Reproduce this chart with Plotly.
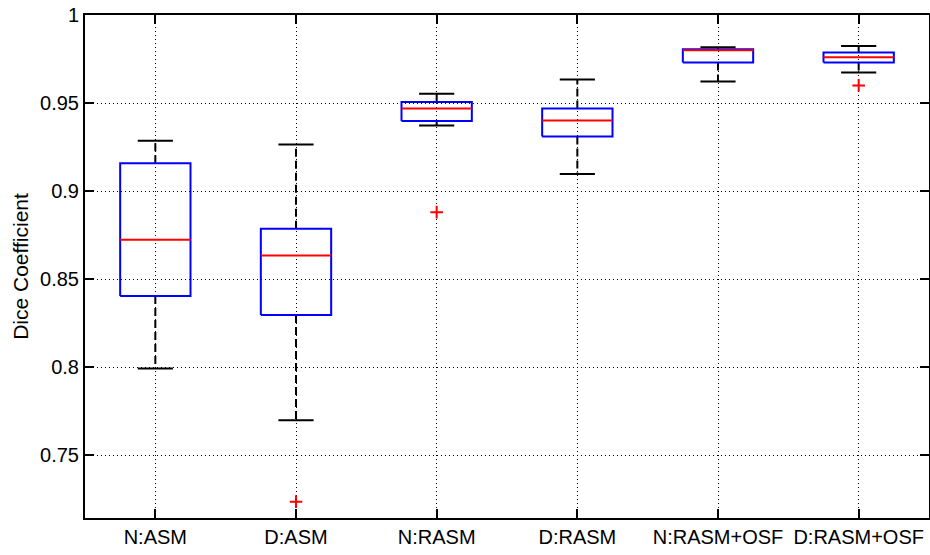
import plotly.graph_objects as go

categories = ["N:ASM", "D:ASM", "N:RASM", "D:RASM", "N:RASM+OSF", "D:RASM+OSF"]
lower_whisker = [0.7991, 0.7698, 0.9372, 0.9096, 0.9622, 0.9673]
q1 = [0.8404, 0.8296, 0.9398, 0.9310, 0.9730, 0.9730]
median = [0.8723, 0.8634, 0.9469, 0.9401, 0.9800, 0.9760]
q3 = [0.9158, 0.8786, 0.9506, 0.9469, 0.9805, 0.9787]
upper_whisker = [0.9285, 0.9264, 0.9552, 0.9633, 0.9817, 0.9824]
outlier_cat = [2, 3, 6]
outlier_val = [0.7235, 0.8880, 0.9600]
y_ticks = [0.75, 0.8, 0.85, 0.9, 0.95, 1.0]
y_tick_labels = ["0.75", "0.8", "0.85", "0.9", "0.95", "1"]

BOX_HALF = 0.25
CAP_HALF = 0.125

xpos = list(range(1, len(categories) + 1))

wx, wy = [], []
cx, cy = [], []
bx, by = [], []
mx, my = [], []
for i, x in enumerate(xpos):
    wx += [x, x, None, x, x, None]
    wy += [q3[i], upper_whisker[i], None, q1[i], lower_whisker[i], None]
    cx += [x - CAP_HALF, x + CAP_HALF, None, x - CAP_HALF, x + CAP_HALF, None]
    cy += [upper_whisker[i], upper_whisker[i], None, lower_whisker[i], lower_whisker[i], None]
    bx += [x - BOX_HALF, x + BOX_HALF, x + BOX_HALF, x - BOX_HALF, x - BOX_HALF, None]
    by += [q1[i], q1[i], q3[i], q3[i], q1[i], None]
    mx += [x - BOX_HALF, x + BOX_HALF, None]
    my += [median[i], median[i], None]

fig = go.Figure()
fig.add_trace(go.Scatter(x=wx, y=wy, mode="lines",
                         line=dict(color="black", width=2, dash="8px,4px"),
                         hoverinfo="skip", showlegend=False))
fig.add_trace(go.Scatter(x=cx, y=cy, mode="lines",
                         line=dict(color="black", width=2),
                         hoverinfo="skip", showlegend=False))
fig.add_trace(go.Scatter(x=bx, y=by, mode="lines",
                         line=dict(color="#0000ff", width=2),
                         hoverinfo="skip", showlegend=False))
fig.add_trace(go.Scatter(x=mx, y=my, mode="lines",
                         line=dict(color="#ff0000", width=2),
                         hoverinfo="skip", showlegend=False))
fig.add_trace(go.Scatter(x=outlier_cat, y=outlier_val, mode="markers",
                         marker=dict(symbol="cross-thin", size=9,
                                     line=dict(color="#ff0000", width=2)),
                         hoverinfo="skip", showlegend=False))

FONT = "Liberation Sans, Arial, sans-serif"
axis_common = dict(
    showline=True, linecolor="black", linewidth=2, mirror="ticks",
    ticks="inside", ticklen=9, tickwidth=2, tickcolor="black",
    showgrid=True, gridcolor="black", gridwidth=1, griddash="1px,3px",
    zeroline=False, ticklabeloverflow="allow", automargin=False,
    tickfont=dict(family=FONT, size=20, color="black"),
)

fig.update_xaxes(range=[0.5, 6.5], tickvals=xpos, ticktext=categories, **axis_common)
fig.update_yaxes(range=[0.7142, 1.00001], tickvals=y_ticks, ticktext=y_tick_labels,
                 title=dict(text="Dice Coefficient", standoff=6,
                            font=dict(family=FONT, size=21, color="black")),
                 **axis_common)

fig.update_layout(
    width=930, height=555,
    margin=dict(l=85, r=1, t=15, b=37),
    plot_bgcolor="white", paper_bgcolor="white",
)

# Remove the browser's default 8px body margin so the figure fills the window.
fig.write_html("out.html",
               config={"displayModeBar": False},
               post_script="document.body.style.margin='0';document.body.style.overflow='hidden';")
